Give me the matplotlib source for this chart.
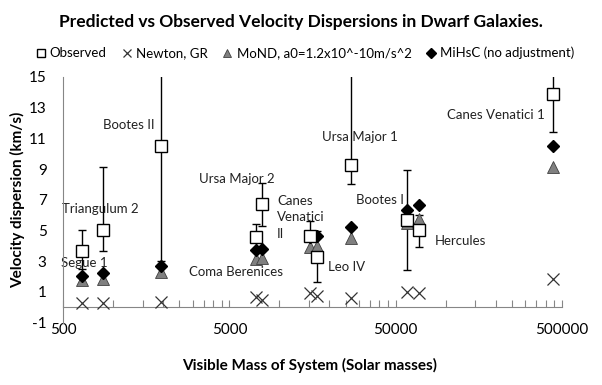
import matplotlib
matplotlib.use('Agg')
import matplotlib.pyplot as plt
from matplotlib.ticker import FixedLocator, NullFormatter
import numpy as np

plt.rcParams['font.family'] = ['Lato', 'DejaVu Sans']

# Galaxies (left to right)
galaxies = ['Segue 1', 'Triangulum 2', 'Bootes II', 'Coma Berenices', 'Ursa Major 2',
            'Canes Venatici II', 'Leo IV', 'Ursa Major 1', 'Bootes I', 'Hercules',
            'Canes Venatici 1']
mass = [650, 870, 1950, 7190, 7810, 15250, 16880, 26800, 58200, 69300, 443800]

observed = [3.66, 5.06, 10.5, 4.6, 6.7, 4.62, 3.31, 9.3, 5.68, 5.01, 13.9]
obs_hi = [5.06, 9.15, 20.0, 5.4, 8.1, 5.6, 5.0, 20.0, 8.95, 6.0, 16.0]
obs_lo = [2.5, 3.7, 3.05, 3.8, 5.27, 3.6, 1.62, 8.06, 2.4, 3.93, 11.42]

newton = [0.29, 0.29, 0.33, 0.65, 0.5, 0.92, 0.76, 0.61, 0.98, 0.94, 1.85]
mond = [1.75, 1.85, 2.29, 3.18, 3.24, 3.92, 3.97, 4.5, 5.48, 5.73, 9.12]
mihsc = [2.07, 2.22, 2.72, 3.75, 3.78, 4.6, 4.62, 5.2, 6.33, 6.68, 10.48]

# label text, left x (mass), centre y
labels = [
    ('Segue 1', 485, 2.86),
    ('Triangulum 2', 491, 6.39),
    ('Bootes II', 867, 11.88),
    ('Ursa Major 2', 3277, 8.35),
    ('Canes\nVenatici\nII', 9655, 5.86),
    ('Coma Berenices', 2852, 2.29),
    ('Leo IV', 19580, 2.61),
    ('Ursa Major 1', 18010, 11.1),
    ('Bootes I', 28840, 7.02),
    ('Hercules', 86200, 4.31),
    ('Canes Venatici 1', 101800, 12.53),
]

x_major = [500, 5000, 50000, 500000]
x_minor = [500 * k * 10 ** d for d in range(3) for k in range(2, 10)]
y_ticks = list(range(-1, 16, 2))

fig = plt.figure(figsize=(6.02, 3.85), dpi=100)
ax = fig.add_axes([63.3 / 602, 1 - 322.7 / 385, (561.7 - 63.3) / 602, (322.7 - 77) / 385])

obs = np.array(observed)
yerr = [obs - np.array(obs_lo), np.array(obs_hi) - obs]
ax.errorbar(mass, observed, yerr=yerr, fmt='none', ecolor='black', elinewidth=1,
            capsize=3, capthick=1, zorder=2)
h_obs, = ax.plot(mass, observed, 's', ms=8.5, mfc='white', mec='black', mew=1,
                 label='Observed', zorder=5)
h_new, = ax.plot(mass, newton, 'x', ms=8.5, color='#333333', mew=0.9,
                 label='Newton, GR', zorder=3)
h_mond, = ax.plot(mass, mond, '^', ms=8, mfc='#808080', mec='#404040', mew=0.6,
                  label='MoND, a0=1.2x10^-10m/s^2', zorder=3)
h_mih, = ax.plot(mass, mihsc, 'D', ms=6.5, color='black',
                 label='MiHsC (no adjustment)', zorder=4)

for text, lx, ly in labels:
    ax.text(lx, ly, text, ha='left', va='center', fontsize=9.5, color='#222222',
            linespacing=1.45, zorder=1)

ax.set_xscale('log')
ax.set_xlim(500, 500000)
ax.set_ylim(-1, 15)
ax.xaxis.set_major_locator(FixedLocator(x_major))
ax.xaxis.set_minor_locator(FixedLocator(x_minor))
ax.xaxis.set_minor_formatter(NullFormatter())
ax.set_xticklabels([str(v) for v in x_major])
ax.set_yticks(y_ticks)
ax.set_yticklabels([str(v) for v in y_ticks])

for s in ['top', 'right']:
    ax.spines[s].set_visible(False)
ax.spines['left'].set_color('#868686')
ax.spines['bottom'].set_color('#868686')
ax.spines['bottom'].set_position(('data', 0))
ax.tick_params(axis='x', which='both', direction='in', color='#868686', width=0.8,
               labelsize=11, pad=11)
ax.tick_params(axis='x', which='major', length=5)
ax.tick_params(axis='x', which='minor', length=5)
ax.tick_params(axis='y', length=0, labelsize=11, pad=12)

fig.text(0.5, 1 - 22 / 385, 'Predicted vs Observed Velocity Dispersions in Dwarf Galaxies.',
         ha='center', va='center', fontsize=12.5, fontweight='bold')
fig.text(310 / 602, 1 - 365 / 385, 'Visible Mass of System (Solar masses)',
         ha='center', va='center', fontsize=11, fontweight='bold')
fig.text(18 / 602, 1 - 200 / 385, 'Velocity dispersion (km/s)', rotation=90,
         ha='center', va='center', fontsize=11, fontweight='bold')

fig.legend(handles=[h_obs, h_new, h_mond, h_mih], loc='center', ncol=4,
           bbox_to_anchor=(305 / 602, 1 - 53 / 385), frameon=False, fontsize=9.5,
           handlelength=0.8, handletextpad=0.3, columnspacing=1.1, markerscale=0.75)

fig.savefig('out.png', dpi=100)
